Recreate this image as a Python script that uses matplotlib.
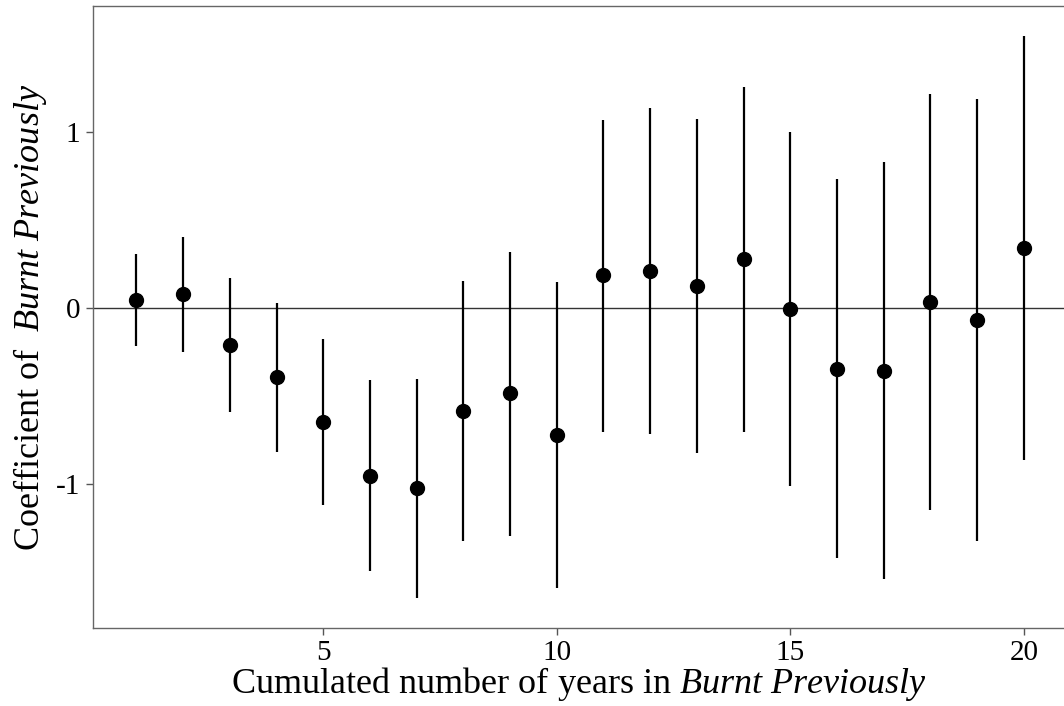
import numpy as np
import matplotlib
matplotlib.use('Agg')
import matplotlib.pyplot as plt

# Coefficient estimates with lower / upper bounds
years = [1, 2, 3, 4, 5, 6, 7, 8, 9, 10, 11, 12, 13, 14, 15, 16, 17, 18, 19, 20]
coef = [0.048, 0.078, -0.21, -0.393, -0.651, -0.956, -1.025, -0.589, -0.485, -0.723,
        0.185, 0.212, 0.127, 0.277, -0.007, -0.346, -0.358, 0.035, -0.069, 0.339]
lower = [-0.217, -0.249, -0.591, -0.818, -1.125, -1.501, -1.654, -1.326, -1.30, -1.594,
         -0.704, -0.718, -0.827, -0.704, -1.014, -1.427, -1.543, -1.152, -1.330, -0.868]
upper = [0.31, 0.406, 0.169, 0.028, -0.178, -0.413, -0.402, 0.155, 0.321, 0.150,
         1.069, 1.141, 1.079, 1.259, 1.005, 0.734, 0.829, 1.219, 1.192, 1.55]

plt.rcParams['font.family'] = 'Liberation Serif'
plt.rcParams['mathtext.fontset'] = 'custom'
plt.rcParams['mathtext.rm'] = 'Liberation Serif'
plt.rcParams['mathtext.it'] = 'Liberation Serif:italic'
plt.rcParams['axes.unicode_minus'] = False

fig = plt.figure(figsize=(10.64, 7.06), dpi=100)
ax = fig.add_axes([93 / 1064, 1 - 628 / 706, 1 - 93 / 1064, 622 / 706])

ax.axhline(0, color='#333333', lw=1.0, zorder=1)
ax.vlines(years, lower, upper, color='black', lw=1.6, zorder=2)
ax.plot(years, coef, 'o', color='black', ms=10, zorder=3)

ax.set_xlim(0.07, 20.86)
ax.set_ylim(-1.823, 1.72)
ax.set_xticks([5, 10, 15, 20])
ax.set_yticks([-1, 0, 1])
ax.tick_params(labelsize=21, color='#555555', length=5, width=1, pad=4, labelcolor='black')

for s in ['left', 'bottom', 'top']:
    ax.spines[s].set_color('#666666')
    ax.spines[s].set_linewidth(1)
ax.spines['right'].set_visible(False)

ax.set_xlabel(r'Cumulated number of years in $\it{Burnt\ Previously}$', fontsize=26, labelpad=-1)
ax.set_ylabel(r'Coefficient of  $\it{Burnt\ Previously}$', fontsize=26, labelpad=5)

plt.savefig('out.png', dpi=100)
